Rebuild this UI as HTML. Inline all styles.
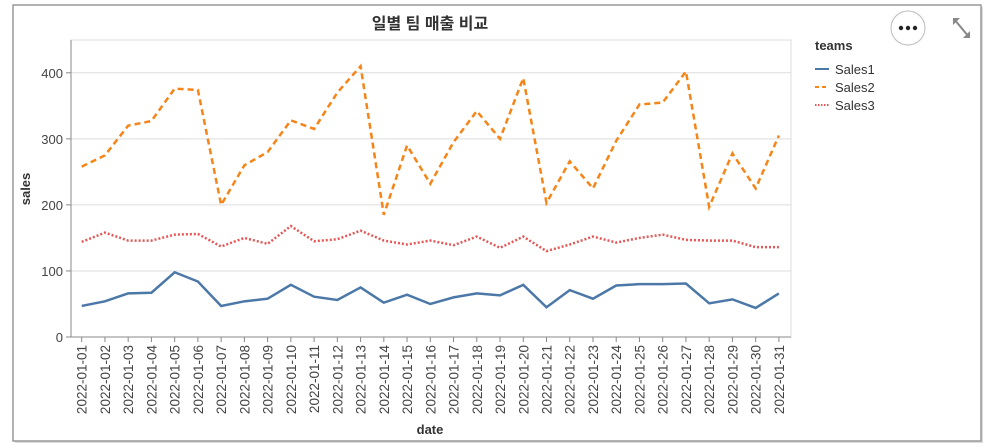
<!DOCTYPE html>
<html><head><meta charset="utf-8"><style>
html,body{margin:0;padding:0;background:#fff;width:997px;height:448px;overflow:hidden}
svg text{font-family:"Liberation Sans","Noto Sans CJK KR",sans-serif}
</style></head><body>
<svg id="chart" width="997" height="448" xmlns="http://www.w3.org/2000/svg">
<rect x="15" y="7" width="968" height="436" fill="#bbb" opacity="0.5"/>
<rect x="13" y="5" width="968" height="436" fill="#fff" stroke="#999" stroke-width="1.5"/>
<text x="430" y="29" text-anchor="middle" font-size="16" font-weight="bold" fill="#333">일별 팀 매출 비교</text>
<g id="grid"></g><g id="axes"></g><g id="series"></g>
<text transform="translate(30,189) rotate(-90)" text-anchor="middle" font-size="13" font-weight="bold" fill="#333">sales</text>
<text x="430" y="434" text-anchor="middle" font-size="13" font-weight="bold" fill="#333">date</text>
<g>
<text x="815" y="50" font-size="13" font-weight="bold" fill="#333">teams</text>
<g><line x1="815" x2="829" y1="69" y2="69" stroke="#4c78a8" stroke-width="2"/><text x="835" y="74" font-size="13" fill="#333">Sales1</text></g>
<g><line x1="815" x2="829" y1="87" y2="87" stroke="#f58518" stroke-width="2" stroke-dasharray="4,3"/><text x="835" y="92" font-size="13" fill="#333">Sales2</text></g>
<g><line x1="815" x2="829" y1="105" y2="105" stroke="#e45756" stroke-width="2" stroke-dasharray="1.5,1.5"/><text x="835" y="110" font-size="13" fill="#333">Sales3</text></g>
</g>
<g>
<circle cx="908" cy="28" r="17" fill="#fff" stroke="#bbb"/>
<circle cx="901" cy="28" r="2.2" fill="#222"/><circle cx="908" cy="28" r="2.2" fill="#222"/><circle cx="915" cy="28" r="2.2" fill="#222"/>
</g>
<g fill="#888">
<polygon points="953,18 960,18 953,25"/><polygon points="970,38 963,38 970,31"/>
<line x1="954" y1="19" x2="969" y2="37" stroke="#888" stroke-width="2"/>
</g>
</svg>
<script>
const dates=[];for(let i=1;i<=31;i++)dates.push('2022-01-'+String(i).padStart(2,'0'));
const sales1=[47,54,66,67,98,84,47,54,58,79,61,56,75,52,64,50,60,66,63,79,45,71,58,78,80,80,81,51,57,44,66];
const sales2=[258,275,320,327,376,374,200,260,280,328,315,370,410,185,290,232,295,342,300,392,203,266,225,297,352,355,402,197,278,225,305];
const sales3=[144,158,146,146,155,156,137,150,141,168,145,148,161,146,140,146,139,152,135,152,130,140,152,143,150,155,147,146,146,136,136];
const yTicks=[0,100,200,300,400];
const NS='http://www.w3.org/2000/svg';
const L=71,R=791,T=40,B=337;
const x=i=>81.7+i*23.24;
const y=v=>B-v*0.6605;
function mk(p,t,a){const e=document.createElementNS(NS,t);for(const k in a)e.setAttribute(k,a[k]);p.appendChild(e);return e;}
const grid=document.getElementById('grid'),axes=document.getElementById('axes'),ser=document.getElementById('series');
mk(grid,'rect',{x:L,y:T,width:R-L,height:B-T,fill:'none',stroke:'#ddd'});
yTicks.forEach(v=>{
 const g=mk(grid,'line',{x1:L,x2:R,y1:y(v),y2:y(v),stroke:'#ddd'});
 
 
 mk(axes,'line',{x1:L-5,x2:L,y1:y(v),y2:y(v),stroke:'#888'});
 const t=mk(axes,'text',{x:L-8,y:y(v)+5,'text-anchor':'end','font-size':13,fill:'#444'});
 t.textContent=v;
 
 
});
mk(axes,'line',{x1:L,x2:L,y1:T,y2:B,stroke:'#888'});
mk(axes,'line',{x1:L,x2:R,y1:B,y2:B,stroke:'#888'});
dates.forEach((d,i)=>{
 mk(axes,'line',{x1:x(i),x2:x(i),y1:B,y2:B+5,stroke:'#888'});
 const t=mk(axes,'text',{transform:`translate(${x(i)+5},${B+8}) rotate(-90)`,'text-anchor':'end','font-size':13.5,fill:'#444'});
 t.textContent=d;
 
 
});
[[sales1,'#4c78a8','none','line-sales1'],[sales2,'#f58518','6,4','line-sales2'],[sales3,'#e45756','2,2','line-sales3']].forEach(([arr,c,da,n])=>{
 const p=mk(ser,'path',{d:arr.map((v,i)=>(i?'L':'M')+x(i)+','+y(v)).join(''),fill:'none',stroke:c,'stroke-width':2.5,'stroke-dasharray':da});
 
 
});
</script>
</body></html>
